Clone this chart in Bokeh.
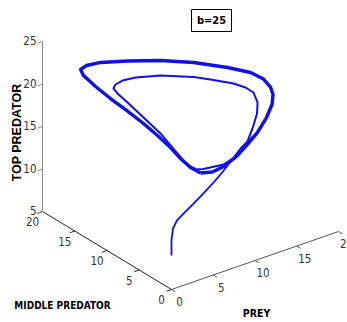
import numpy as np
from bokeh.plotting import figure
from bokeh.models import Range1d
from bokeh.core.properties import value
from bokeh.embed import file_html
from bokeh.resources import INLINE

# ---------------- data ----------------
title_text = "b=25"
prey_label = "PREY"
mid_label = "MIDDLE PREDATOR"
top_label = "TOP PREDATOR"

prey_ticks = [0, 5, 10, 15, 20]
mid_ticks = [0, 5, 10, 15, 20]
top_ticks = [5, 10, 15, 20, 25]

# initial transient
tail_prey = [0.77, 1.00, 1.49, 2.28, 3.37, 4.88, 6.30, 7.73, 8.97, 10.08, 11.43, 12.54, 13.78]
tail_mid = [1.0, 1.3, 1.7, 2.1, 2.5, 2.9, 3.2, 3.5, 3.7, 3.9, 4.1, 4.3, 4.5]
tail_top = [8.28, 9.83, 10.89, 11.38, 11.64, 12.12, 12.68, 13.34, 14.07, 14.83, 15.81, 16.28, 16.71]

# outer (repeated) cycle
outer_prey = [8.11, 9.31, 10.40, 11.72, 12.81, 13.78, 14.62, 15.13, 15.25, 15.10, 14.57, 13.56,
              11.96, 9.59, 7.18, 4.77, 2.93, 2.03, 1.62, 1.82, 2.49, 3.35, 4.27, 5.14, 5.89,
              6.52, 6.99, 7.45, 8.11]
outer_mid = [6.0, 5.7, 5.4, 5.1, 4.8, 4.5, 4.2, 4.0, 4.0, 4.2, 4.6, 5.3, 6.8, 9.0, 11.0, 13.0,
             14.8, 15.8, 16.2, 16.0, 15.0, 13.8, 12.5, 11.0, 9.8, 8.6, 7.5, 6.7, 6.0]
outer_top = [13.19, 13.03, 13.44, 14.31, 15.49, 16.71, 18.32, 19.77, 20.90, 21.74, 22.68, 23.47,
             23.92, 24.31, 24.44, 24.29, 23.92, 23.41, 22.90, 22.21, 21.15, 19.99, 18.87, 17.73,
             16.61, 15.53, 14.47, 13.74, 13.19]

# inner (single) cycle
inner_prey = [8.39, 10.40, 11.84, 12.77, 13.33, 13.72, 13.78, 13.45, 12.80, 11.91, 10.23, 9.05,
              6.56, 4.65, 3.71, 3.18, 2.94, 3.11, 3.77, 4.76, 5.79, 6.45, 7.00, 7.37, 7.78, 8.39]
inner_mid = [5.9, 5.4, 5.1, 4.9, 4.7, 4.5, 4.5, 4.7, 5.1, 5.8, 7.2, 8.3, 10.2, 11.6, 12.4, 12.8,
             12.8, 12.4, 11.7, 10.5, 9.2, 8.2, 7.2, 6.6, 6.2, 5.9]
inner_top = [13.61, 13.68, 14.38, 15.57, 17.24, 18.96, 20.24, 21.43, 22.06, 22.51, 22.91, 23.11,
             23.26, 23.03, 22.63, 22.16, 21.77, 21.31, 20.35, 18.79, 17.16, 15.74, 14.48, 13.93,
             13.62, 13.61]

# ---------------- view (3-D camera, screen pixels) ----------------
W, H = 347, 322
ORIGIN = (171.0, 289.0)
PREY_DIR = (8.35, -2.9)
MID_DIR = (-6.45, -3.9)
TOP_DIR = (0.0, -8.5)
PREY_MIN, PREY_MAX = 0, 20
MID_MIN, MID_MAX = 0, 20
TOP_MIN, TOP_MAX = 5, 25


def proj(pv, mv, zv):
    pv = np.asarray(pv, float)
    mv = np.asarray(mv, float)
    zv = np.asarray(zv, float)
    sx = ORIGIN[0] + PREY_DIR[0] * pv + MID_DIR[0] * mv + TOP_DIR[0] * (zv - TOP_MIN)
    sy = ORIGIN[1] + PREY_DIR[1] * pv + MID_DIR[1] * mv + TOP_DIR[1] * (zv - TOP_MIN)
    return sx, sy


p = figure(width=W, height=H, x_range=Range1d(0, W), y_range=Range1d(H, 0),
           output_backend="svg", toolbar_location=None, x_axis_type=None, y_axis_type=None,
           min_border=0, outline_line_color=None,
           background_fill_color="white", border_fill_color="white")

NARROW = value("'Liberation Sans Narrow', 'DejaVu Sans Condensed', 'Liberation Sans', sans-serif")

# ---- axes lines ----
ax_prey = proj([PREY_MIN, PREY_MAX], [MID_MIN, MID_MIN], [TOP_MIN, TOP_MIN])
ax_mid = proj([PREY_MIN, PREY_MIN], [MID_MIN, MID_MAX], [TOP_MIN, TOP_MIN])
ax_top = proj([PREY_MIN, PREY_MIN], [MID_MAX, MID_MAX], [TOP_MIN, TOP_MAX])
p.line(ax_prey[0], ax_prey[1], line_color="#555555", line_width=1)
p.line(ax_mid[0], ax_mid[1], line_color="#222222", line_width=1)
p.line(ax_top[0], ax_top[1], line_color="#8a8a8a", line_width=1)

TL = 0.6  # tick length in data units
# prey ticks
n = len(prey_ticks)
a = proj(prey_ticks, [MID_MIN] * n, [TOP_MIN] * n)
b = proj(prey_ticks, [MID_MIN - TL] * n, [TOP_MIN] * n)
p.segment(a[0], a[1], b[0], b[1], line_color="#555555", line_width=1)
p.text(a[0] + 8, a[1] + 12, text=[str(t) for t in prey_ticks], text_font=NARROW,
       text_font_size="11.5px", text_color="#333333", text_align="center", text_baseline="middle")
# middle ticks
n = len(mid_ticks)
a = proj([PREY_MIN] * n, mid_ticks, [TOP_MIN] * n)
b = proj([PREY_MIN - TL] * n, mid_ticks, [TOP_MIN] * n)
p.segment(a[0], a[1], b[0], b[1], line_color="#222222", line_width=1)
p.text(a[0] - 10, a[1] + 10, text=[str(t) for t in mid_ticks], text_font=NARROW,
       text_font_size="11.5px", text_color="#333333", text_align="center", text_baseline="middle")
# top ticks
n = len(top_ticks)
a = proj([PREY_MIN] * n, [MID_MAX] * n, top_ticks)
b = proj([PREY_MIN - TL] * n, [MID_MAX] * n, top_ticks)
p.segment(a[0], a[1], b[0], b[1], line_color="#8a8a8a", line_width=1)
p.text(a[0] - 6, a[1] - 1, text=[str(t) for t in top_ticks], text_font=NARROW,
       text_font_size="11.5px", text_color="#333333", text_align="right", text_baseline="middle")

# ---- axis titles ----
p.text([62], [305], text=[mid_label], text_font=NARROW, text_font_size="10px",
       text_font_style="bold", text_color="black", text_align="center", text_baseline="middle")
p.text([256], [312], text=[prey_label], text_font=NARROW, text_font_size="10.5px",
       text_font_style="bold", text_color="black", text_align="center", text_baseline="middle")
p.text([16], [132], text=[top_label], text_font=value("Liberation Sans"), text_font_size="12.5px",
       text_font_style="bold", text_color="black", text_align="center", text_baseline="middle",
       angle=np.pi / 2)

# ---- title box ----
p.quad(left=[191], right=[231], top=[9], bottom=[31], fill_color="white",
       line_color="black", line_width=1)
p.text([211], [20], text=[title_text], text_font=NARROW, text_font_size="11px",
       text_font_style="bold", text_color="black", text_align="center", text_baseline="middle")

# ---- trajectory ----
BLUE = "#1010ee"
sx, sy = proj(outer_prey, outer_mid, outer_top)
p.line(sx, sy, line_color=BLUE, line_width=3.4, line_join="round")
sx, sy = proj(inner_prey, inner_mid, inner_top)
p.line(sx, sy, line_color=BLUE, line_width=2, line_join="round")
sx, sy = proj(tail_prey, tail_mid, tail_top)
p.line(sx, sy, line_color=BLUE, line_width=1.8, line_join="round")

open("out.html", "w").write(file_html(p, INLINE))
